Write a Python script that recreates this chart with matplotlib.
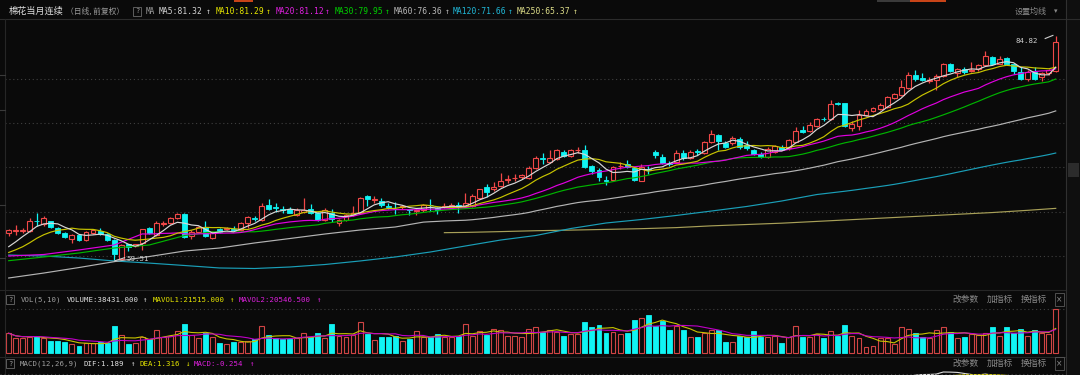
import numpy as np
import pandas as pd
import matplotlib
matplotlib.use('Agg')
import matplotlib.pyplot as plt
from matplotlib.lines import Line2D
from matplotlib.patches import Rectangle

W, H = 1080, 375
BG = '#0a0a0a'

# ---------------- data ----------------
opens = [62.6, 62.85, 62.85, 62.8, 64.0, 63.6, 63.9, 63.2, 62.6, 61.9,
         62.4, 61.8, 62.6, 62.8, 62.5, 61.8, 59.65, 61.3, 61.1, 61.5,
         63.2, 62.4, 63.6, 63.7, 64.3, 64.7, 62.2, 62.7, 63.3, 62.0,
         63.1, 63.0, 63.1, 62.9, 63.7, 64.3, 64.1, 65.7, 65.55, 65.25,
         65.3, 64.6, 65.0, 65.3, 64.9, 64.1, 64.9, 63.75, 64.05, 64.6,
         64.8, 66.8, 66.3, 66.2, 65.65, 65.35, 65.5, 65.25, 65.1, 65.2,
         65.8, 65.4, 65.5, 65.65, 65.7, 65.6, 65.6, 66.5, 67.75, 67.5,
         67.9, 68.6, 68.75, 68.9, 68.8, 69.9, 71.05, 70.6, 70.9, 71.75,
         71.3, 71.9, 71.95, 70.1, 69.7, 68.6, 68.55, 70.1, 70.35, 69.9,
         68.5, 69.85, 71.75, 71.2, 70.45, 70.6, 71.65, 71.0, 71.8, 71.6,
         72.8, 73.6, 72.7, 72.7, 73.15, 72.5, 72.0, 71.5, 71.2, 71.75,
         72.3, 72.15, 72.9, 74.2, 74.1, 74.6, 75.5, 75.4, 77.25, 77.2,
         74.4, 74.6, 75.9, 76.35, 76.6, 76.8, 77.8, 78.15, 78.9, 80.4,
         80.05, 79.75, 79.85, 80.3, 81.7, 80.65, 81.05, 80.9, 81.05, 81.5,
         82.45, 81.65, 82.3, 81.7, 80.8, 79.9, 80.8, 80.2, 80.6, 80.9]
highs = [63.1, 63.5, 63.2, 64.3, 64.8, 64.5, 64.0, 63.3, 62.7, 62.5,
         62.5, 62.8, 63.0, 63.2, 62.6, 61.9, 61.3, 61.4, 61.4, 63.1,
         63.3, 63.9, 64.0, 64.4, 64.9, 64.8, 62.9, 63.4, 63.9, 62.8,
         63.2, 63.3, 63.4, 63.8, 64.5, 64.5, 66.0, 66.4, 66.0, 65.6,
         65.5, 65.4, 66.5, 65.9, 65.0, 65.4, 65.3, 64.2, 64.7, 65.6,
         66.7, 66.9, 66.8, 66.5, 66.0, 66.1, 65.8, 65.3, 65.3, 65.9,
         66.4, 65.5, 66.0, 66.0, 66.1, 67.1, 67.0, 67.6, 68.1, 68.3,
         69.4, 69.1, 69.3, 69.3, 70.1, 71.3, 71.6, 72.0, 72.1, 72.0,
         72.1, 72.3, 72.5, 70.3, 69.9, 69.0, 70.2, 70.6, 70.8, 70.0,
         70.4, 70.1, 72.0, 71.5, 70.7, 71.9, 71.9, 71.9, 72.1, 73.0,
         74.2, 73.7, 73.0, 73.5, 73.4, 73.0, 72.1, 71.7, 72.3, 72.5,
         72.5, 73.2, 74.5, 74.6, 75.1, 75.6, 75.7, 77.6, 77.4, 77.3,
         75.2, 76.5, 76.6, 76.8, 77.2, 78.0, 78.4, 79.8, 80.8, 81.0,
         80.6, 80.2, 80.5, 81.8, 81.8, 81.2, 81.3, 81.9, 81.7, 83.1,
         82.6, 82.5, 82.4, 81.8, 81.35, 81.0, 81.35, 80.8, 81.1, 84.82]
lows = [62.3, 62.4, 62.6, 62.7, 63.4, 63.4, 63.2, 62.5, 62.0, 61.5,
        61.7, 61.7, 62.5, 62.4, 61.7, 59.51, 59.6, 60.6, 61.0, 60.7,
        62.5, 62.3, 63.4, 63.6, 64.2, 62.0, 61.9, 62.6, 62.1, 61.9,
        62.6, 62.9, 62.8, 62.8, 63.2, 64.0, 64.0, 65.2, 65.0, 64.8,
        64.8, 64.5, 64.9, 64.7, 64.0, 64.0, 63.8, 63.4, 64.0, 64.5,
        64.7, 65.6, 66.0, 65.5, 65.3, 64.7, 65.3, 64.6, 64.6, 65.0,
        65.1, 64.7, 65.4, 65.6, 64.9, 65.5, 65.5, 66.4, 66.6, 67.3,
        67.8, 68.2, 68.4, 68.7, 68.7, 69.8, 70.4, 70.5, 70.8, 71.2,
        71.2, 71.6, 69.9, 69.3, 68.4, 68.0, 68.4, 69.8, 69.9, 68.4,
        68.4, 69.2, 71.1, 70.4, 70.1, 70.5, 70.8, 70.9, 71.4, 71.5,
        72.7, 71.95, 72.2, 72.5, 72.1, 72.0, 71.4, 71.1, 71.1, 71.6,
        71.9, 72.0, 72.8, 73.9, 74.0, 74.5, 75.2, 75.3, 77.0, 74.5,
        74.1, 74.2, 75.8, 76.2, 76.5, 76.7, 77.7, 78.0, 78.8, 79.7,
        79.7, 79.5, 78.7, 80.2, 80.7, 80.2, 80.5, 80.8, 80.9, 81.4,
        81.5, 81.6, 81.5, 80.5, 79.8, 79.7, 79.8, 79.7, 80.4, 80.8]
closes = [62.9, 62.95, 62.95, 64.0, 63.9, 64.3, 63.3, 62.6, 62.1, 62.4,
          61.8, 62.7, 62.9, 62.5, 61.8, 60.2, 61.2, 61.0, 61.3, 63.0,
          62.6, 63.7, 63.7, 64.3, 64.7, 62.1, 62.7, 63.3, 62.2, 62.7,
          62.7, 63.15, 62.9, 63.7, 64.4, 64.2, 65.6, 65.3, 65.45, 65.15,
          64.9, 65.2, 65.2, 64.8, 64.1, 65.2, 64.2, 64.1, 64.6, 64.9,
          66.5, 66.4, 66.4, 65.75, 65.55, 65.3, 65.6, 65.15, 65.2, 65.75,
          65.7, 65.2, 65.6, 65.8, 65.55, 66.0, 66.8, 67.5, 67.25, 67.75,
          68.5, 68.7, 68.85, 69.1, 69.9, 71.1, 70.95, 71.0, 71.95, 71.3,
          72.0, 72.0, 70.0, 69.6, 68.9, 68.5, 70.05, 70.2, 70.05, 68.55,
          70.05, 69.75, 71.4, 70.5, 70.35, 71.65, 71.1, 71.75, 71.7, 72.9,
          73.8, 73.0, 72.3, 73.3, 72.25, 72.15, 71.5, 71.2, 72.1, 72.4,
          72.0, 73.1, 74.1, 74.0, 74.75, 75.4, 75.4, 77.1, 77.15, 74.65,
          74.9, 75.9, 76.4, 76.7, 77.0, 77.9, 78.25, 79.1, 80.4, 79.9,
          79.8, 79.85, 80.3, 81.7, 80.9, 81.05, 80.8, 81.0, 81.5, 82.5,
          81.65, 82.2, 81.7, 80.9, 79.9, 80.8, 79.9, 80.6, 80.95, 84.15]
volumes = [17400, 12900, 12900, 14400, 15000, 12900, 10800, 10800, 9900, 7800,
           6000, 9000, 9000, 9900, 9000, 24000, 15900, 8400, 9000, 14400,
           12000, 20400, 14400, 15000, 19500, 25500, 15900, 12900, 17400, 14400,
           9300, 8400, 9900, 9900, 10800, 12000, 23400, 15900, 12900, 12000,
           12000, 12900, 18000, 13800, 17400, 12900, 25500, 15000, 14400, 15900,
           27000, 16800, 11400, 14400, 13800, 15000, 10800, 12000, 19500, 13800,
           13800, 16800, 14400, 14400, 15000, 25800, 15000, 19500, 15900, 21000,
           20400, 15000, 15000, 14400, 21000, 22800, 18900, 20400, 18900, 15000,
           16800, 16800, 27000, 22800, 24900, 18000, 18900, 16800, 17400, 28800,
           30600, 33000, 24000, 27900, 20400, 23400, 19800, 14400, 14400, 17400,
           19800, 20400, 9900, 9900, 15000, 14400, 19500, 14400, 14400, 15000,
           9000, 14400, 24000, 14400, 14400, 16800, 12900, 19500, 15000, 24900,
           15000, 13500, 5400, 6000, 12900, 12900, 7800, 22800, 21000, 17400,
           14400, 12900, 20400, 22800, 18900, 12900, 13800, 16800, 15900, 18000,
           22800, 15000, 22800, 17400, 21000, 15000, 20400, 17400, 16500, 38431]

# moving-average values at the start of the window (history before it is not shown)
ma5_head = [61.05, 61.6, 62.2, 62.75]
ma10_head = [60.4, 60.7, 61.05, 61.5, 62.0, 62.4, 62.7, 62.9, 63.0]
ma20_head_idx = [0, 5, 10, 15]
ma20_head = [60.0, 60.17, 60.68, 61.24]
ma30_head_idx = [0, 5, 10, 15, 20, 25]
ma30_head = [59.47, 59.89, 60.34, 60.9, 61.24, 62.3]
ma60_head_idx = [0, 5, 10, 15, 20, 25, 30, 35, 40, 45, 50, 55]
ma60_head = [57.52, 58.08, 58.7, 59.36, 59.94, 60.56, 60.9, 61.47, 61.97, 62.48, 62.93, 63.27]
ma120_head_idx = list(range(0, 120, 5))
ma120_head = [60.11, 60.0, 59.77, 59.44, 59.2, 58.93, 58.65, 58.59, 58.76, 59.04,
              59.44, 59.89, 60.45, 61.13, 61.8, 62.31, 63.1, 63.72, 64.11, 64.57,
              65.07, 65.58, 66.2, 66.93]
ma250_idx = [62, 65, 70, 75, 80, 85, 90, 95, 100, 105, 110, 115, 120, 125, 130, 135, 140, 145, 149]
ma250_vals = [62.63, 62.66, 62.75, 62.85, 62.92, 63.0, 63.08, 63.2, 63.4, 63.55,
              63.7, 63.9, 64.1, 64.3, 64.5, 64.7, 64.9, 65.15, 65.37]

grid_prices = [60, 65, 70, 75, 80]
low_label, high_label = '59.51', '84.82'

ma_header = [('MA5:81.32', '#d4d4d4'), ('MA10:81.29', '#e6e600'), ('MA20:81.12', '#e020e0'),
             ('MA30:79.95', '#00d000'), ('MA60:76.36', '#b8b8b8'), ('MA120:71.66', '#20b8d8'),
             ('MA250:65.37', '#dcdc88')]
ma_header_x = [158.4, 216, 275.5, 334.7, 393.5, 452.8, 516.5]
ma_arrow_x = [208, 268, 327, 387, 447, 509.6, 574.5]

# ---------------- helpers ----------------
def fx(x):
    return x / W

def fy(y):
    return 1 - y / H

def xi(x):
    return (x - 8.7) / 7.027

def pr(y):
    return 60 + (256 - y) / 8.87

VPP = 38431 / (353.2 - 309.1)

def vol_of(y):
    return (353.2 - y) * VPP

MONO = ['DejaVu Sans Mono', 'DejaVu Sans']
CJK = ['Noto Sans CJK SC', 'DejaVu Sans']

fig = plt.figure(figsize=(W / 100, H / 100), dpi=100, facecolor=BG)

RED = '#f04848'
VRED = '#d04444'
CYAN = '#10f4f4'

n = len(closes)
idx = np.arange(n)
o = np.array(opens); c = np.array(closes); h = np.array(highs); l = np.array(lows)
up = c >= o
blo = np.minimum(o, c); bhi = np.maximum(o, c)
cols = np.where(up, RED, CYAN)

# ---------------- main price panel ----------------
ax = fig.add_axes([fx(5), fy(289), fx(1065) - fx(5), (289 - 20) / H])
ax.set_xlim(xi(5), xi(1065))
ax.set_ylim(pr(289), pr(20))
ax.axis('off')
for p in grid_prices:
    ax.axhline(p, color='#404040', lw=0.8, ls=(0, (1, 2.5)), zorder=0)

ax.vlines(idx, l, blo, colors=cols, lw=0.9, zorder=2)
ax.vlines(idx, bhi, h, colors=cols, lw=0.9, zorder=2)
bh = np.maximum(bhi - blo, 0.03)
ax.bar(idx[up], bh[up], bottom=blo[up], width=0.7, facecolor=BG, edgecolor=RED, lw=0.8, zorder=2)
ax.bar(idx[~up], bh[~up], bottom=blo[~up], width=0.7, facecolor=CYAN, edgecolor=CYAN, lw=0.6, zorder=2)

cs = pd.Series(closes)
def comp(head_idx, head_vals, win):
    m = cs.rolling(win).mean()
    xs = list(head_idx) + list(range(win - 1, n))
    ys = list(head_vals) + m.iloc[win - 1:].tolist()
    return xs, ys

x5, y5 = comp(range(4), ma5_head, 5)
x10, y10 = comp(range(9), ma10_head, 10)
x20, y20 = comp(ma20_head_idx, ma20_head, 20)
x30, y30 = comp(ma30_head_idx, ma30_head, 30)
x60, y60 = comp(ma60_head_idx, ma60_head, 60)
x120, y120 = comp(ma120_head_idx, ma120_head, 120)

lw = 0.85
ax.plot(ma250_idx, ma250_vals, color='#a8a058', lw=lw, zorder=3)
ax.plot(x120, y120, color='#1a9fb8', lw=lw, zorder=3)
ax.plot(x60, y60, color='#b4b4b4', lw=lw, zorder=3)
ax.plot(x30, y30, color='#00b400', lw=lw, zorder=3)
ax.plot(x20, y20, color='#e000e0', lw=lw, zorder=3)
ax.plot(x10, y10, color='#c8c400', lw=lw, zorder=3)
ax.plot(x5, y5, color='#d8d8d8', lw=lw, zorder=3)

# low / high markers
ilo = int(np.argmin(l)); ihi = int(np.argmax(h))
ax.plot([ilo + 0.1, ilo + 1.5], [l[ilo] - 0.05, l[ilo] + 0.3], color='#d0d0d0', lw=0.8, zorder=4)
ax.text(xi(126), pr(259.3), low_label, color='#d0d0d0', fontsize=5.3, family=MONO,
        ha='left', va='center', zorder=4)
ax.plot([ihi - 1.5, ihi - 0.4], [h[ihi] - 0.3, h[ihi] + 0.05], color='#d0d0d0', lw=0.8, zorder=4)
ax.text(xi(1015), pr(40.7), high_label, color='#d0d0d0', fontsize=5.3, family=MONO,
        ha='left', va='center', zorder=4)

# ---------------- volume panel ----------------
axv = fig.add_axes([fx(5), fy(356), fx(1065) - fx(5), (356 - 290) / H])
axv.set_xlim(xi(5), xi(1065))
axv.set_ylim(vol_of(356), vol_of(290))
axv.axis('off')
v = np.array(volumes, dtype=float)
axv.axhline(v.max(), color='#404040', lw=0.8, ls=(0, (1, 2.5)), zorder=0)
axv.bar(idx[up], v[up], width=0.7, facecolor=BG, edgecolor=VRED, lw=0.8, zorder=2)
axv.bar(idx[~up], v[~up], width=0.7, facecolor=CYAN, edgecolor=CYAN, lw=0.6, zorder=2)
vs = pd.Series(volumes, dtype=float)
axv.plot(idx, vs.rolling(5, min_periods=1).mean(), color='#c8c400', lw=0.8, zorder=3)
axv.plot(idx, vs.rolling(10, min_periods=1).mean(), color='#c000c8', lw=0.8, zorder=3)

# ---------------- MACD panel (only its top shows) ----------------
axm = fig.add_axes([fx(5), 0, fx(1065) - fx(5), (375 - 357) / H])
axm.set_xlim(xi(5), xi(1065))
ema12 = cs.ewm(span=12, adjust=False).mean()
ema26 = cs.ewm(span=26, adjust=False).mean()
dif = ema12 - ema26
dea = dif.ewm(span=9, adjust=False).mean()
peak = max(dif.max(), dea.max())
upp = 0.05
axm.set_ylim(peak - 3 * upp, peak + 15 * upp)
axm.axis('off')
axm.plot(idx, dif, color='#e0e0e0', lw=0.8)
axm.plot(idx, dea, color='#d8d000', lw=0.8)

# ---------------- frame lines ----------------
def fline(x0, y0, x1, y1, color='#2a2a2a', lw=0.8, ls='-'):
    fig.add_artist(Line2D([fx(x0), fx(x1)], [fy(y0), fy(y1)], transform=fig.transFigure,
                          color=color, lw=lw, ls=ls))

fline(0, 18.5, 1080, 18.5, '#2c2c2c')
fline(0, 290, 1066, 290, '#262626')
fline(0, 356.5, 1066, 356.5, '#262626')
fline(1066, 0, 1066, 375, '#303030')
fline(4.5, 19, 4.5, 375, '#262626')
fline(0, 373.5, 1066, 373.5, '#404040', 0.8, (0, (1, 2.5)))
for ty in [75, 110, 205, 258]:
    fline(0, ty, 4.5, ty, '#3a3a3a')
fig.add_artist(Rectangle((fx(1067), fy(375)), fx(1080) - fx(1067), 1, transform=fig.transFigure,
                         facecolor='#0f0f0f', edgecolor='none'))
fig.add_artist(Rectangle((fx(1068), fy(177)), fx(11), 14 / H, transform=fig.transFigure,
                         facecolor='#2c2c2c', edgecolor='none'))
fig.add_artist(Rectangle((fx(877), fy(2)), fx(69), 2 / H, transform=fig.transFigure,
                         facecolor='#3a3a3a', edgecolor='none'))
fig.add_artist(Rectangle((fx(910), fy(2)), fx(36), 2 / H, transform=fig.transFigure,
                         facecolor='#c84418', edgecolor='none'))
fig.add_artist(Rectangle((fx(234), fy(1.5)), fx(19), 1.5 / H, transform=fig.transFigure,
                         facecolor='#c84418', edgecolor='none'))

# ---------------- texts ----------------
def t(x, y, s, color, size=5.3, family=MONO):
    fig.text(fx(x), fy(y), s, color=color, fontsize=size, family=family, ha='left', va='center')

def qbox(x, y):
    fig.text(fx(x), fy(y), '?', color='#9a9a9a', fontsize=5.0, family=MONO, ha='left', va='center',
             bbox=dict(boxstyle='square,pad=0.25', fc='none', ec='#6a6a6a', lw=0.6))

HY = 11.4
t(8.6, HY, '棉花当月连续', '#e0e0e0', 6.6, CJK)
t(66, HY, '（日线, 前复权）', '#9a9a9a', 5.6, CJK)
qbox(135, HY)
t(146, HY, 'MA', '#9a9a9a', 5.6)
for (s, col), xx, ax_ in zip(ma_header, ma_header_x, ma_arrow_x):
    t(xx, HY, s, col, 5.8)
    t(ax_ - 2, HY, '↑', col, 5.8)
t(1015, HY, '设置均线', '#8a8a8a', 5.8, CJK)
t(1054, HY, '▾', '#8a8a8a', 5.0, ['DejaVu Sans'])

VY = 299.5
qbox(8, VY)
t(20.7, VY, 'VOL(5,10)', '#a0a0a0')
t(66.5, VY, 'VOLUME:38431.000', '#e0e0e0')
t(143, VY, '↑', '#e0e0e0')
t(152.5, VY, 'MAVOL1:21515.000', '#e6e600')
t(229.5, VY, '↑', '#e6e600')
t(239, VY, 'MAVOL2:20546.500', '#e020e0')
t(317, VY, '↑', '#e020e0')

MY = 363.5
qbox(8, MY)
t(20, MY, 'MACD(12,26,9)', '#a0a0a0')
t(84, MY, 'DIF:1.189', '#e0e0e0')
t(131, MY, '↑', '#e0e0e0')
t(139.5, MY, 'DEA:1.316', '#e6e600')
t(186, MY, '↓', '#e6e600')
t(194, MY, 'MACD:-0.254', '#e020e0')
t(249.5, MY, '↑', '#e020e0')

for yy in (VY, MY):
    t(953, yy, '改参数', '#8a8a8a', 6.3, CJK)
    t(987, yy, '加指标', '#8a8a8a', 6.3, CJK)
    t(1021, yy, '换指标', '#8a8a8a', 6.3, CJK)
    fig.text(fx(1059.5), fy(yy), '×', color='#8a8a8a', fontsize=5.5, family=['DejaVu Sans'],
             ha='center', va='center',
             bbox=dict(boxstyle='square,pad=0.2', fc='none', ec='#5a5a5a', lw=0.6))

fig.savefig('out.png', dpi=100, facecolor=BG)
